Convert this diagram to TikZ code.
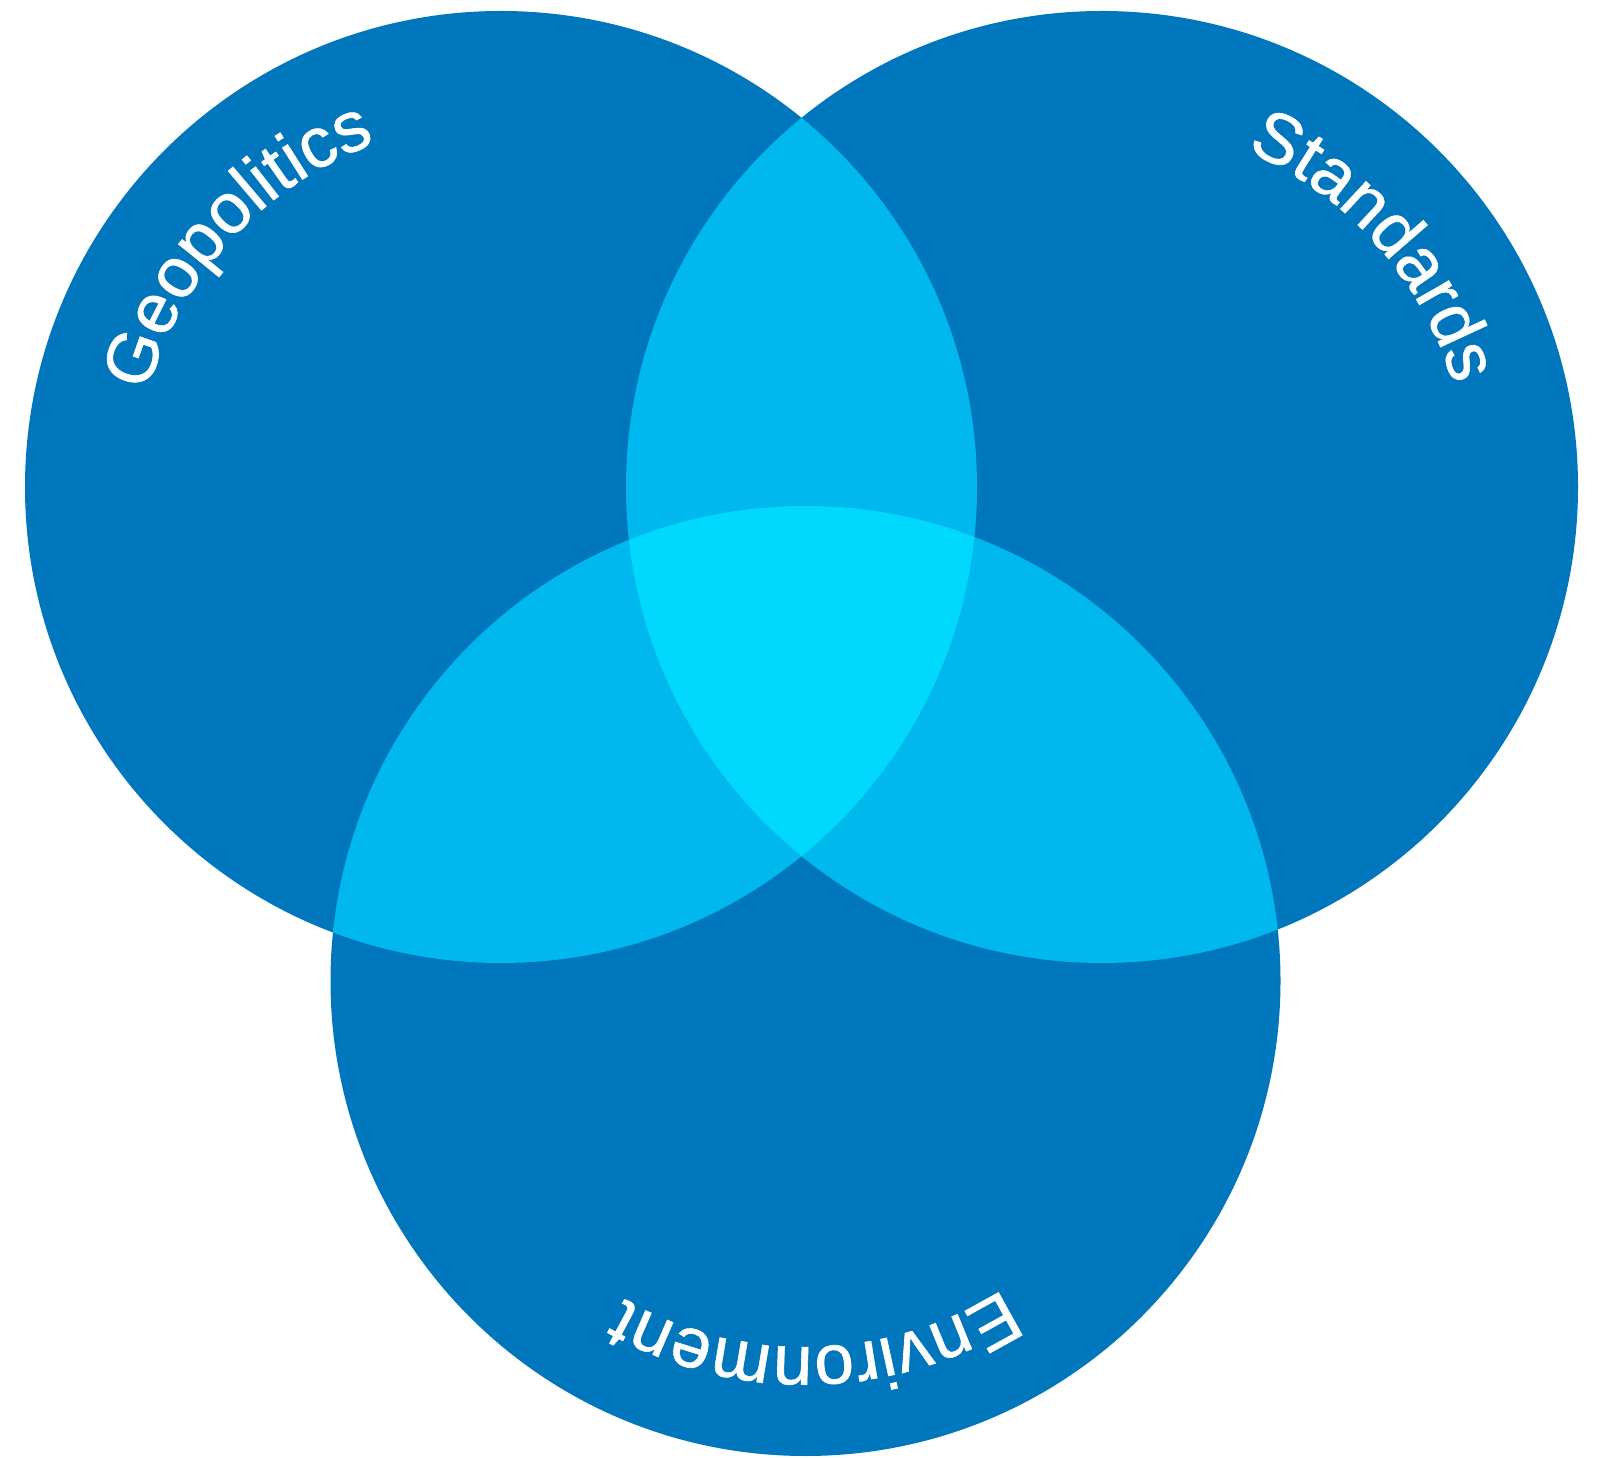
\documentclass[tikz,border=0pt]{standalone}
\usepackage{fontspec}
\setmainfont{Liberation Sans}
\newfontfamily\vennfamily[FakeBold=0.9]{Liberation Sans}
\usetikzlibrary{decorations.text}
\definecolor{vdark}{HTML}{0076BD}
\definecolor{vmid}{HTML}{00B7EE}
\definecolor{vlight}{HTML}{00D8FE}
\newcommand\vennlabelfont{\vennfamily\fontsize{71}{71}\selectfont}
\tikzset{
  venntext/.style={decorate, decoration={text along path, text align=center, text color=white, text={|\vennlabelfont|#1}}}
}
\begin{document}
\begin{tikzpicture}[x=1pt,y=1pt]
\useasboundingbox (0,0) rectangle (1598,1457);
\coordinate (cL) at (501,970);
\coordinate (cR) at (1102,970);
\coordinate (cB) at (805.5,476);
\fill[vdark] (cL) circle[radius=476];
\fill[vdark] (cR) circle[radius=476];
\fill[vdark] (cB) circle[radius=475];
\begin{scope}
  \clip (cL) circle[radius=476];
  \fill[vmid] (cR) circle[radius=476];
  \fill[vmid] (cB) circle[radius=475];
\end{scope}
\begin{scope}
  \clip (cR) circle[radius=476];
  \fill[vmid] (cB) circle[radius=475];
\end{scope}
\begin{scope}
  \clip (cL) circle[radius=476];
  \clip (cR) circle[radius=476];
  \fill[vlight] (cB) circle[radius=475];
\end{scope}
\path[venntext={Geopolitics}] (cL) ++(187.5:366) arc[start angle=187.5, end angle=87.5, radius=366];
\path[venntext={Standards}] (cR) ++(91.5:366) arc[start angle=91.5, end angle=-8.5, radius=366];
\path[venntext={Environment}] (cB) ++(-38.5:366) arc[start angle=-38.5, end angle=-138.5, radius=366];
\end{tikzpicture}
\end{document}
